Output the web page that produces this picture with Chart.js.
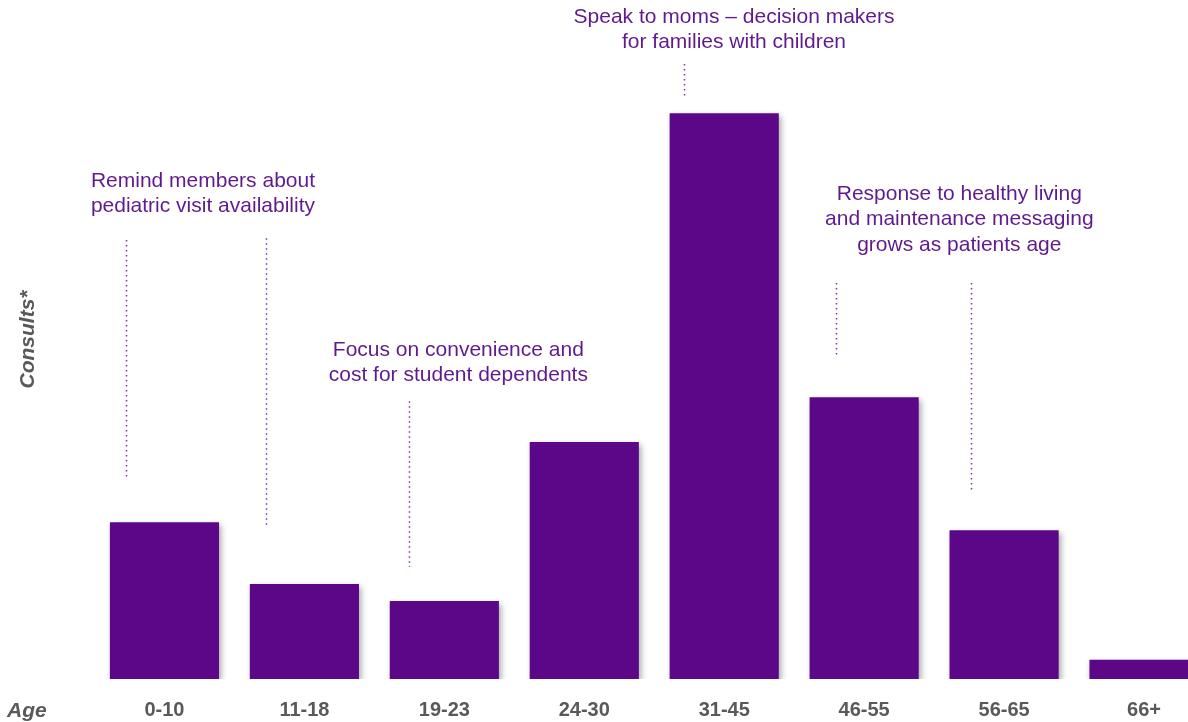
<!DOCTYPE html>
<html>
<head>
<meta charset="utf-8">
<script src="https://cdn.jsdelivr.net/npm/chart.js@4.4.1/dist/chart.umd.min.js"></script>
<style>
  html, body { margin: 0; padding: 0; background: #fff; overflow: hidden; }
  #wrap { position: relative; width: 1214px; height: 722px; }
</style>
</head>
<body>
<div id="wrap"><canvas id="chart"></canvas></div>
<script>
// Data
const ageGroups = ['0-10', '11-18', '19-23', '24-30', '31-45', '46-55', '56-65', '66+'];
const consults = [27.7, 16.8, 13.8, 41.9, 100, 49.8, 26.3, 3.4];

// Callouts: text lines with an anchor (category index) and dotted leader lines
const calloutTexts = [
  ['Remind members about', 'pediatric visit availability'],
  ['Focus on convenience and', 'cost for student dependents'],
  ['Speak to moms \u2013 decision makers', 'for families with children'],
  ['Response to healthy living', 'and maintenance messaging', 'grows as patients age']
];
const calloutAnchors = [0.275, 2.10, 4.07, 5.68];
const calloutTops = [181, 350, 17, 194];

const leaderX = [-0.275, 0.725, 1.746, 3.71, 4.80, 5.76];
const leaderFrom = [77.6, 77.9, 49.1, 108.7, 70.0, 70.0];
const leaderTo = [35.5, 27.0, 19.8, 102.9, 56.9, 33.4];

const purple = '#5c0787';
const textPurple = '#5f1a8e';
const grey = '#595959';

const barShadow = {
  id: 'barShadow',
  beforeDatasetsDraw(chart) {
    const ctx = chart.ctx;
    ctx.save();
    ctx.shadowColor = 'rgba(0,0,0,0.35)';
    ctx.shadowBlur = 6;
    ctx.shadowOffsetX = 2;
    ctx.shadowOffsetY = 3;
  },
  afterDatasetsDraw(chart) {
    chart.ctx.restore();
  }
};

const callouts = {
  id: 'callouts',
  afterDraw(chart) {
    const ctx = chart.ctx;
    const x = chart.scales.x, y = chart.scales.y;
    ctx.save();
    // dotted leaders
    ctx.strokeStyle = '#7a33b3';
    ctx.lineWidth = 1.5;
    ctx.setLineDash([1.5, 3.5]);
    leaderX.forEach((v, i) => {
      const px = Math.round(x.getPixelForValue(v)) + 0.5;
      ctx.beginPath();
      ctx.moveTo(px, y.getPixelForValue(leaderFrom[i]));
      ctx.lineTo(px, y.getPixelForValue(leaderTo[i]));
      ctx.stroke();
    });
    ctx.setLineDash([]);
    // texts
    ctx.fillStyle = textPurple;
    ctx.font = '21px "Liberation Sans", Arial, sans-serif';
    ctx.textAlign = 'center';
    ctx.textBaseline = 'middle';
    calloutTexts.forEach((lines, i) => {
      const cx = x.getPixelForValue(calloutAnchors[i]);
      lines.forEach((t, j) => ctx.fillText(t, cx, calloutTops[i] + j * 25.7));
    });
    // axis label "Age"
    ctx.fillStyle = grey;
    ctx.font = 'italic bold 21px "Liberation Sans", Arial, sans-serif';
    ctx.textAlign = 'left';
    ctx.fillText('Age', 7, 711);
    ctx.restore();
  }
};

new Chart(document.getElementById('chart'), {
  type: 'bar',
  data: {
    labels: ageGroups,
    datasets: [{
      data: consults,
      backgroundColor: purple,
      borderWidth: 0,
      barPercentage: 0.78,
      categoryPercentage: 1
    }]
  },
  options: {
    responsive: true,
    maintainAspectRatio: false,
    animation: false,
    layout: { padding: 0 },
    plugins: { legend: { display: false }, tooltip: { enabled: false } },
    scales: {
      x: {
        grid: { display: false, drawTicks: false },
        border: { display: false },
        ticks: {
          color: grey,
          font: { family: '"Liberation Sans", Arial, sans-serif', size: 20, weight: 'bold' },
          padding: 19,
          maxRotation: 0,
          autoSkip: false
        },
        afterFit: s => { s.height = 43; }
      },
      y: {
        min: 0,
        max: 120,
        grid: { display: false, drawTicks: false },
        border: { display: false },
        ticks: { display: false },
        title: {
          display: true,
          text: 'Consults*',
          color: grey,
          font: { family: '"Liberation Sans", Arial, sans-serif', size: 21, weight: 'bold', style: 'italic' },
          padding: { top: 16, bottom: 0 }
        },
        afterFit: s => { s.width = 94.5; }
      }
    }
  },
  plugins: [barShadow, callouts]
});
</script>
</body>
</html>
